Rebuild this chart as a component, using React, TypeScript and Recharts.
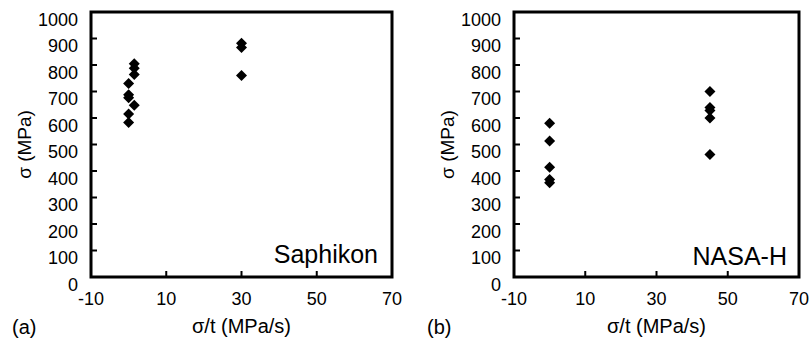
import React from "react";
import { ScatterChart, Scatter, XAxis, YAxis, ReferenceArea, Label } from "recharts";

const xTicks = [-10, 10, 30, 50, 70];
const yTicks = [0, 100, 200, 300, 400, 500, 600, 700, 800, 900, 1000];

// (a) Saphikon
const saphikonRate = [0, 0, 0, 0, 0, 1.5, 1.5, 1.5, 1.5, 30, 30, 30];
const saphikonStrength = [730, 688, 676, 615, 583, 805, 788, 764, 648, 882, 866, 760];

// (b) NASA-H
const nasaRate = [0, 0, 0, 0, 0, 45, 45, 45, 45, 45];
const nasaStrength = [580, 513, 414, 368, 356, 700, 640, 628, 600, 462];

const FONT = "'Liberation Sans', Arial, sans-serif";

const Diamond = (props: any) => {
  const { cx, cy } = props;
  const r = 5.5;
  return (
    <polygon
      points={`${cx},${cy - r} ${cx + r},${cy} ${cx},${cy + r} ${cx - r},${cy}`}
      fill="#000"
    />
  );
};

const XTick = (props: any) => {
  const { x, y, payload } = props;
  return (
    <g>
      <line x1={x} y1={y} x2={x} y2={y - 6} stroke="#000" strokeWidth={2} />
      <text x={x} y={y + 28} textAnchor="middle" fontSize={18} fontFamily={FONT} fill="#000">
        {payload.value}
      </text>
    </g>
  );
};

const YTick = (props: any) => {
  const { x, y, payload } = props;
  return (
    <g>
      <line x1={x} y1={y} x2={x + 6} y2={y} stroke="#000" strokeWidth={2} />
      <text x={x - 13} y={y + 13.5} textAnchor="end" fontSize={18} fontFamily={FONT} fill="#000">
        {payload.value}
      </text>
    </g>
  );
};

type PanelProps = {
  left: number;
  width: number;
  axisWidth: number;
  rightMargin: number;
  rates: number[];
  strengths: number[];
  name: string;
  nameOffset: number;
  tag: string;
  tagX: number;
};

const Panel: React.FC<PanelProps> = ({
  left,
  width,
  axisWidth,
  rightMargin,
  rates,
  strengths,
  name,
  nameOffset,
  tag,
  tagX,
}) => {
  const data = rates.map((x, i) => ({ x, y: strengths[i] }));
  const titleX = axisWidth - 60;
  const titleY = (12 + 277) / 2;

  return (
    <div style={{ position: "absolute", left, top: 0 }}>
      <ScatterChart
        width={width}
        height={349}
        margin={{ top: 12, right: rightMargin, bottom: 0, left: 0 }}
      >
        <XAxis
          type="number"
          dataKey="x"
          domain={[-10, 70]}
          ticks={xTicks}
          interval={0}
          axisLine={false}
          tickLine={false}
          tickSize={0}
          tickMargin={0}
          height={72}
          allowDataOverflow
          tick={(p: any) => <XTick {...p} />}
        >
          <Label
            value="σ/t (MPa/s)"
            position="insideBottom"
            offset={16}
            fontSize={20}
            fontFamily={FONT}
            fill="#000"
          />
          <Label
            content={() => (
              <text x={tagX} y={334} fontSize={20} fontFamily={FONT} fill="#000">
                {tag}
              </text>
            )}
          />
        </XAxis>
        <YAxis
          type="number"
          dataKey="y"
          domain={[0, 1000]}
          ticks={yTicks}
          interval={0}
          axisLine={false}
          tickLine={false}
          tickSize={0}
          tickMargin={0}
          width={axisWidth}
          allowDataOverflow
          tick={(p: any) => <YTick {...p} />}
        >
          <Label
            content={() => (
              <text
                x={titleX}
                y={titleY}
                transform={`rotate(-90 ${titleX} ${titleY})`}
                textAnchor="middle"
                fontSize={19}
                fontFamily={FONT}
                fill="#000"
              >
                σ (MPa)
              </text>
            )}
          />
        </YAxis>
        <ReferenceArea
          x1={-10}
          x2={70}
          y1={0}
          y2={1000}
          fill="none"
          stroke="#000"
          strokeWidth={3}
          ifOverflow="visible"
          label={{
            value: name,
            position: "insideBottomRight",
            offset: nameOffset,
            fontSize: 25,
            fontFamily: FONT,
            fill: "#000",
          }}
        />
        <Scatter data={data} shape={<Diamond />} isAnimationActive={false} />
      </ScatterChart>
    </div>
  );
};

export default function App() {
  return (
    <div
      style={{
        position: "absolute",
        left: 0,
        top: 0,
        width: 811,
        height: 349,
        background: "#fff",
      }}
    >
      <Panel
        left={0}
        width={405}
        axisWidth={91}
        rightMargin={13}
        rates={saphikonRate}
        strengths={saphikonStrength}
        name="Saphikon"
        nameOffset={14}
        tag="(a)"
        tagX={12}
      />
      <Panel
        left={405}
        width={406}
        axisWidth={109}
        rightMargin={12}
        rates={nasaRate}
        strengths={nasaStrength}
        name="NASA-H"
        nameOffset={12}
        tag="(b)"
        tagX={22}
      />
    </div>
  );
}
